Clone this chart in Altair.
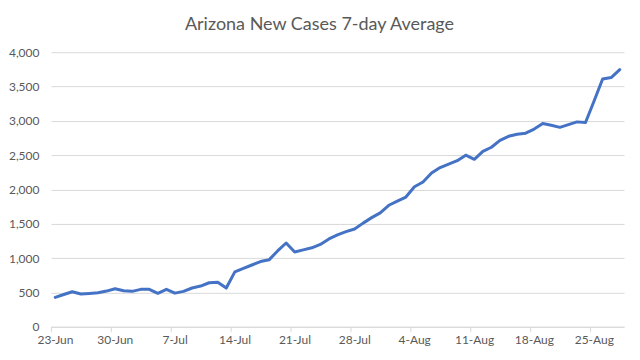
import altair as alt
import pandas as pd

title_text = "Arizona New Cases 7-day Average"

tick_labels = ["23-Jun", "30-Jun", "7-Jul", "14-Jul", "21-Jul", "28-Jul",
               "4-Aug", "11-Aug", "18-Aug", "25-Aug"]

# 7-day average of new cases, one value per day from 23-Jun to 28-Aug
cases = [428, 470, 510, 477, 485, 495, 520, 554, 525, 516,
         545, 545, 487, 545, 490, 516, 565, 593, 641, 650,
         564, 800, 850, 900, 950, 975, 1105, 1220, 1090, 1120,
         1150, 1200, 1280, 1340, 1385, 1425, 1510, 1590, 1660, 1770,
         1830, 1890, 2040, 2110, 2240, 2320, 2370, 2420, 2500, 2440,
         2555, 2615, 2715, 2775, 2805, 2820, 2880, 2960, 2935, 2905,
         2945, 2985, 2975, 3290, 3610, 3630, 3745]

df = pd.DataFrame({"day": [i + 0.5 for i in range(len(cases))], "cases": cases})

label_arr = "[" + ",".join("'" + t + "'" for t in tick_labels) + "]"

chart = alt.Chart(df).mark_line(
    color="#4472C4", strokeWidth=3, strokeJoin="round", strokeCap="round"
).encode(
    x=alt.X("day:Q",
            scale=alt.Scale(domain=[0, len(cases)], nice=False, zero=False),
            axis=alt.Axis(values=[7 * i for i in range(len(tick_labels))],
                          labelExpr=label_arr + "[round(datum.value / 7)]",
                          title=None, grid=False, domain=True,
                          domainColor="#d9d9d9", ticks=True, tickColor="#d9d9d9",
                          tickSize=5, labelPadding=3, labelOffset=4,
                          labelColor="#595959", labelFont="Lato", labelFontSize=12,
                          labelAlign="center", labelFlush=False, labelOverlap=False)),
    y=alt.Y("cases:Q",
            scale=alt.Scale(domain=[0, 4000], nice=False),
            axis=alt.Axis(values=[i * 500 for i in range(9)], format=",.0f",
                          title=None, grid=True, gridColor="#d9d9d9", domain=False,
                          ticks=False, labelPadding=12, labelColor="#595959",
                          labelFont="Lato", labelFontSize=12)),
).properties(
    width=574, height=275,
    title=alt.TitleParams(title_text, fontSize=18, font="Lato", color="#595959",
                          fontWeight="normal", anchor="middle", offset=12, dx=-18),
    autosize=alt.AutoSizeParams(type="none"),
    padding={"left": 43, "top": 44, "right": 8, "bottom": 25},
).configure_view(stroke=None)

chart.save("out.html", embed_options={"renderer": "svg", "actions": False})
